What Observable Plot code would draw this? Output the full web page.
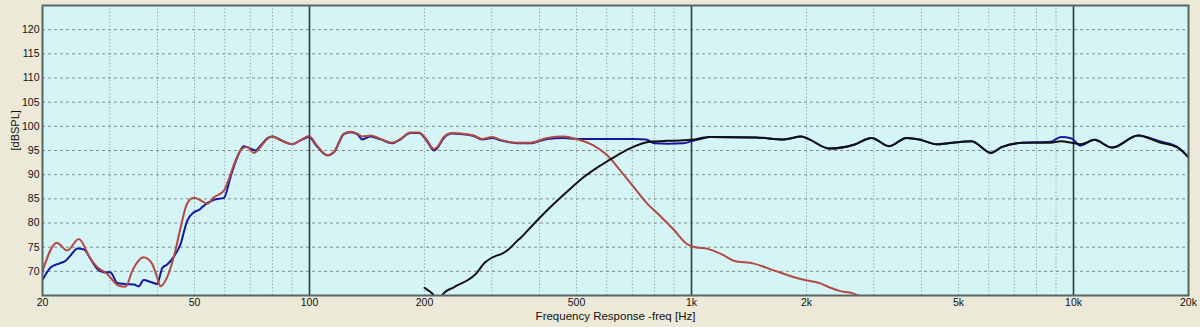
<!DOCTYPE html>
<html><head><meta charset="utf-8">
<script src="https://cdn.jsdelivr.net/npm/d3@7"></script>
<script src="https://cdn.jsdelivr.net/npm/@observablehq/plot@0.6"></script>
<style>
html,body{margin:0;padding:0;background:#ECE9D8;}
#chart{width:1200px;height:327px;overflow:hidden;}
</style>
</head><body><div id="chart"></div>
<script>
// Tick values / labels
const xTicks = [20, 50, 100, 200, 500, 1000, 2000, 5000, 10000, 20000];
const xTickLabels = ["20", "50", "100", "200", "500", "1k", "2k", "5k", "10k", "20k"];
const yTicks = [70, 75, 80, 85, 90, 95, 100, 105, 110, 115, 120];
const minorFreqs = [30, 40, 50, 60, 70, 80, 90, 200, 300, 400, 500, 600, 700, 800, 900,
  2000, 3000, 4000, 5000, 6000, 7000, 8000, 9000];
const majorFreqs = [100, 1000, 10000];

// Red series (woofer)
const redFreq = [20, 21.8, 23.2, 24.9, 26.7, 27.8, 29.5, 31.7, 33.0, 34.4, 36.8, 38.7, 39.9, 40.7, 42.4, 44.1, 46.0, 47.8, 49.8,
  51.8, 54.0, 56.2, 59.7, 61.5, 64.0, 66.6, 68.7, 71.5, 74.4, 77.5, 79.9, 84.0, 90.1, 94.7, 99.6,
  104.7, 111.3, 115.8, 123.0, 128.0, 133.3, 137.4, 144.4, 153.4, 164.6, 173.1, 183.8, 193.3, 203.3, 211.6, 216.0,
  224.7, 236.4, 248.6, 269.2, 283.2, 300.8, 316.2, 349.8, 378.8, 418.9, 463.0, 502, 555, 601.6, 652, 706.3,
  765.6, 829.6, 899.0, 974.4, 1024, 1099, 1215, 1290, 1456, 1642, 1929, 2176, 2312, 2455, 2635, 2800];
const redDb = [70.0, 75.9, 74.3, 76.7, 72.6, 70.9, 69.5, 67.0, 66.8, 70.2, 72.9, 71.6, 68.8, 66.9, 68.8, 72.9, 79.1, 84.0, 85.2,
  84.7, 84.0, 85.3, 86.7, 89.1, 92.9, 95.4, 95.7, 94.5, 95.7, 97.4, 97.9, 97.1, 96.3, 97.1, 98.0,
  96.0, 94.0, 94.7, 98.5, 98.9, 98.5, 97.9, 98.1, 97.4, 96.6, 97.4, 98.7, 98.7, 97.1, 95.3, 95.7,
  97.8, 98.6, 98.5, 98.1, 97.4, 97.8, 97.2, 96.6, 96.6, 97.6, 97.9, 97.3, 96.0, 94.0, 90.8, 87.4,
  84.0, 81.4, 78.6, 75.6, 75.0, 74.7, 73.3, 72.2, 71.6, 70.2, 68.4, 67.5, 66.6, 65.9, 65.5, 64.5];

// Blue series (sum)
const blueFreq = [20, 21.0, 22.1, 23.0, 23.7, 24.7, 25.7, 26.7, 27.8, 28.9, 30.1, 31.4, 32.7, 34.7, 35.7, 36.8, 38.4, 39.9, 41.2,
  42.4, 44.1, 46.0, 47.8, 49.8, 51.8, 52.4, 56.2, 59.7, 62.1, 64.7, 67.3, 70.1, 72.2, 74.4, 77.5, 79.9, 84.0, 90.1, 94.7, 99.6,
  104.7, 111.3, 115.8, 123.0, 128.0, 133.3, 137.4, 144.4, 153.4, 164.6, 173.1, 183.8, 193.3, 203.3, 211.6, 216.0,
  224.7, 236.4, 248.6, 269.2, 283.2, 300.8, 316.2, 349.8, 378.8, 418.9, 463.0, 502, 578, 706, 760, 800, 864, 955, 997, 1056,
  1119, 1474, 1744, 1939, 2022, 2297, 2663, 2960, 3290, 3654, 3981, 4378, 4816, 5408, 6078, 6480, 7352, 8704,
  9274, 9882, 10422, 11344, 12606, 14770, 16772, 18640, 20000];
const blueDb = [68.2, 70.8, 71.6, 72.2, 73.3, 74.7, 74.5, 72.6, 70.5, 69.8, 69.8, 67.6, 67.4, 67.3, 66.9, 68.2, 67.8, 67.4, 70.7,
  71.4, 73.0, 75.7, 80.4, 82.2, 82.9, 83.3, 84.8, 85.2, 89.5, 93.6, 95.9, 95.4, 95.0, 96.0, 97.5, 97.9, 97.2, 96.3, 97.1, 97.8,
  95.8, 94.0, 94.6, 98.4, 98.8, 98.4, 97.3, 97.9, 97.3, 96.5, 97.3, 98.6, 98.6, 96.9, 95.0, 95.5,
  97.6, 98.5, 98.4, 98.0, 97.3, 97.6, 97.1, 96.5, 96.5, 97.4, 97.6, 97.4, 97.4, 97.4, 97.3, 96.5, 96.4, 96.5, 96.9, 97.4,
  97.8, 97.7, 97.3, 97.9, 97.4, 95.4, 96.2, 97.6, 95.9, 97.6, 97.2, 96.3, 96.6, 96.9, 94.5, 95.7, 96.6, 96.8,
  97.8, 97.5, 96.0, 97.2, 95.6, 98.1, 96.9, 95.8, 93.6];

// Black series (tweeter)
const blackFreq = [200, 205, 209.5, 215, 220, 224.7, 238.6, 243.6, 258.6, 269.2, 274.8, 286.0, 291.8, 310.0, 316.2, 329.2,
  349.8, 356.7, 386.4, 427.5, 472.8, 522.5, 577.8, 639.0, 706.3, 781.0, 863.6, 954.8, 997, 1119, 1474, 1744, 1939, 2022,
  2297, 2663, 2960, 3290, 3654, 3981, 4378, 4816, 5408, 6078, 6480, 7352, 8704, 9274, 9882, 10422, 11344, 12606,
  14770, 16772, 18640, 20000];
const blackDb = [66.6, 66.0, 65.4, 64.3, 64.6, 65.5, 66.7, 67.1, 68.1, 69.1, 69.8, 71.6, 72.2, 73.3, 73.5, 74.3,
  76.3, 76.9, 79.8, 83.3, 86.5, 89.5, 91.9, 94.0, 95.8, 96.8, 97.0, 97.1, 97.2, 97.8, 97.7, 97.3, 97.9, 97.4,
  95.4, 96.2, 97.6, 95.9, 97.6, 97.2, 96.3, 96.6, 96.9, 94.5, 95.7, 96.6, 96.6, 96.9, 96.6, 96.3, 97.2, 95.6,
  98.1, 96.7, 95.7, 93.6];

const toRows = (fs, ds) => fs.map((f, i) => ({f, db: ds[i]}));
const red = toRows(redFreq, redDb);
const blue = toRows(blueFreq, blueDb);
const black = toRows(blackFreq, blackDb);
const labelOf = new Map(xTicks.map((t, i) => [t, xTickLabels[i]]));

const chart = Plot.plot({
  width: 1200,
  height: 327,
  marginLeft: 42,
  marginRight: 12,
  marginTop: 5,
  marginBottom: 32,
  style: {background: "transparent", fontFamily: "'Liberation Sans', Arial, sans-serif", fontSize: "10.5px", color: "#111"},
  x: {type: "log", domain: [20, 20000]},
  y: {domain: [65, 125]},
  marks: [
    Plot.frame({fill: "#d5f4f6", stroke: null}),
    Plot.ruleX(minorFreqs, {stroke: "#8d9fa1", strokeDasharray: "1.2,2.2", strokeWidth: 1}),
    Plot.ruleY(yTicks, {stroke: "#7d8b8c", strokeDasharray: "3,3", strokeWidth: 1}),
    Plot.ruleX(majorFreqs, {stroke: "#2d3b3c", strokeWidth: 1.6}),
    Plot.line(blue, {x: "f", y: "db", stroke: "#1616a0", strokeWidth: 2, curve: "monotone-x", clip: true}),
    Plot.line(red, {x: "f", y: "db", stroke: "#b24a42", strokeWidth: 2, curve: "monotone-x", clip: true}),
    Plot.line(black, {x: "f", y: "db", stroke: "#111111", strokeWidth: 2, curve: "monotone-x", clip: true}),
    Plot.frame({stroke: "#566565", strokeWidth: 2}),
    Plot.axisX(xTicks, {tickSize: 0, tickPadding: 3, tickFormat: d => labelOf.get(d), label: null}),
    Plot.axisY(yTicks, {tickSize: 0, tickPadding: 3, label: null}),
    Plot.text(["[dBSPL]"], {frameAnchor: "left", dx: -27, rotate: -90, fontSize: 11}),
    Plot.text(["Frequency Response -freq [Hz]"], {frameAnchor: "bottom", dy: 24, fontSize: 11.5})
  ]
});
document.getElementById("chart").appendChild(chart);
</script>
</body></html>
